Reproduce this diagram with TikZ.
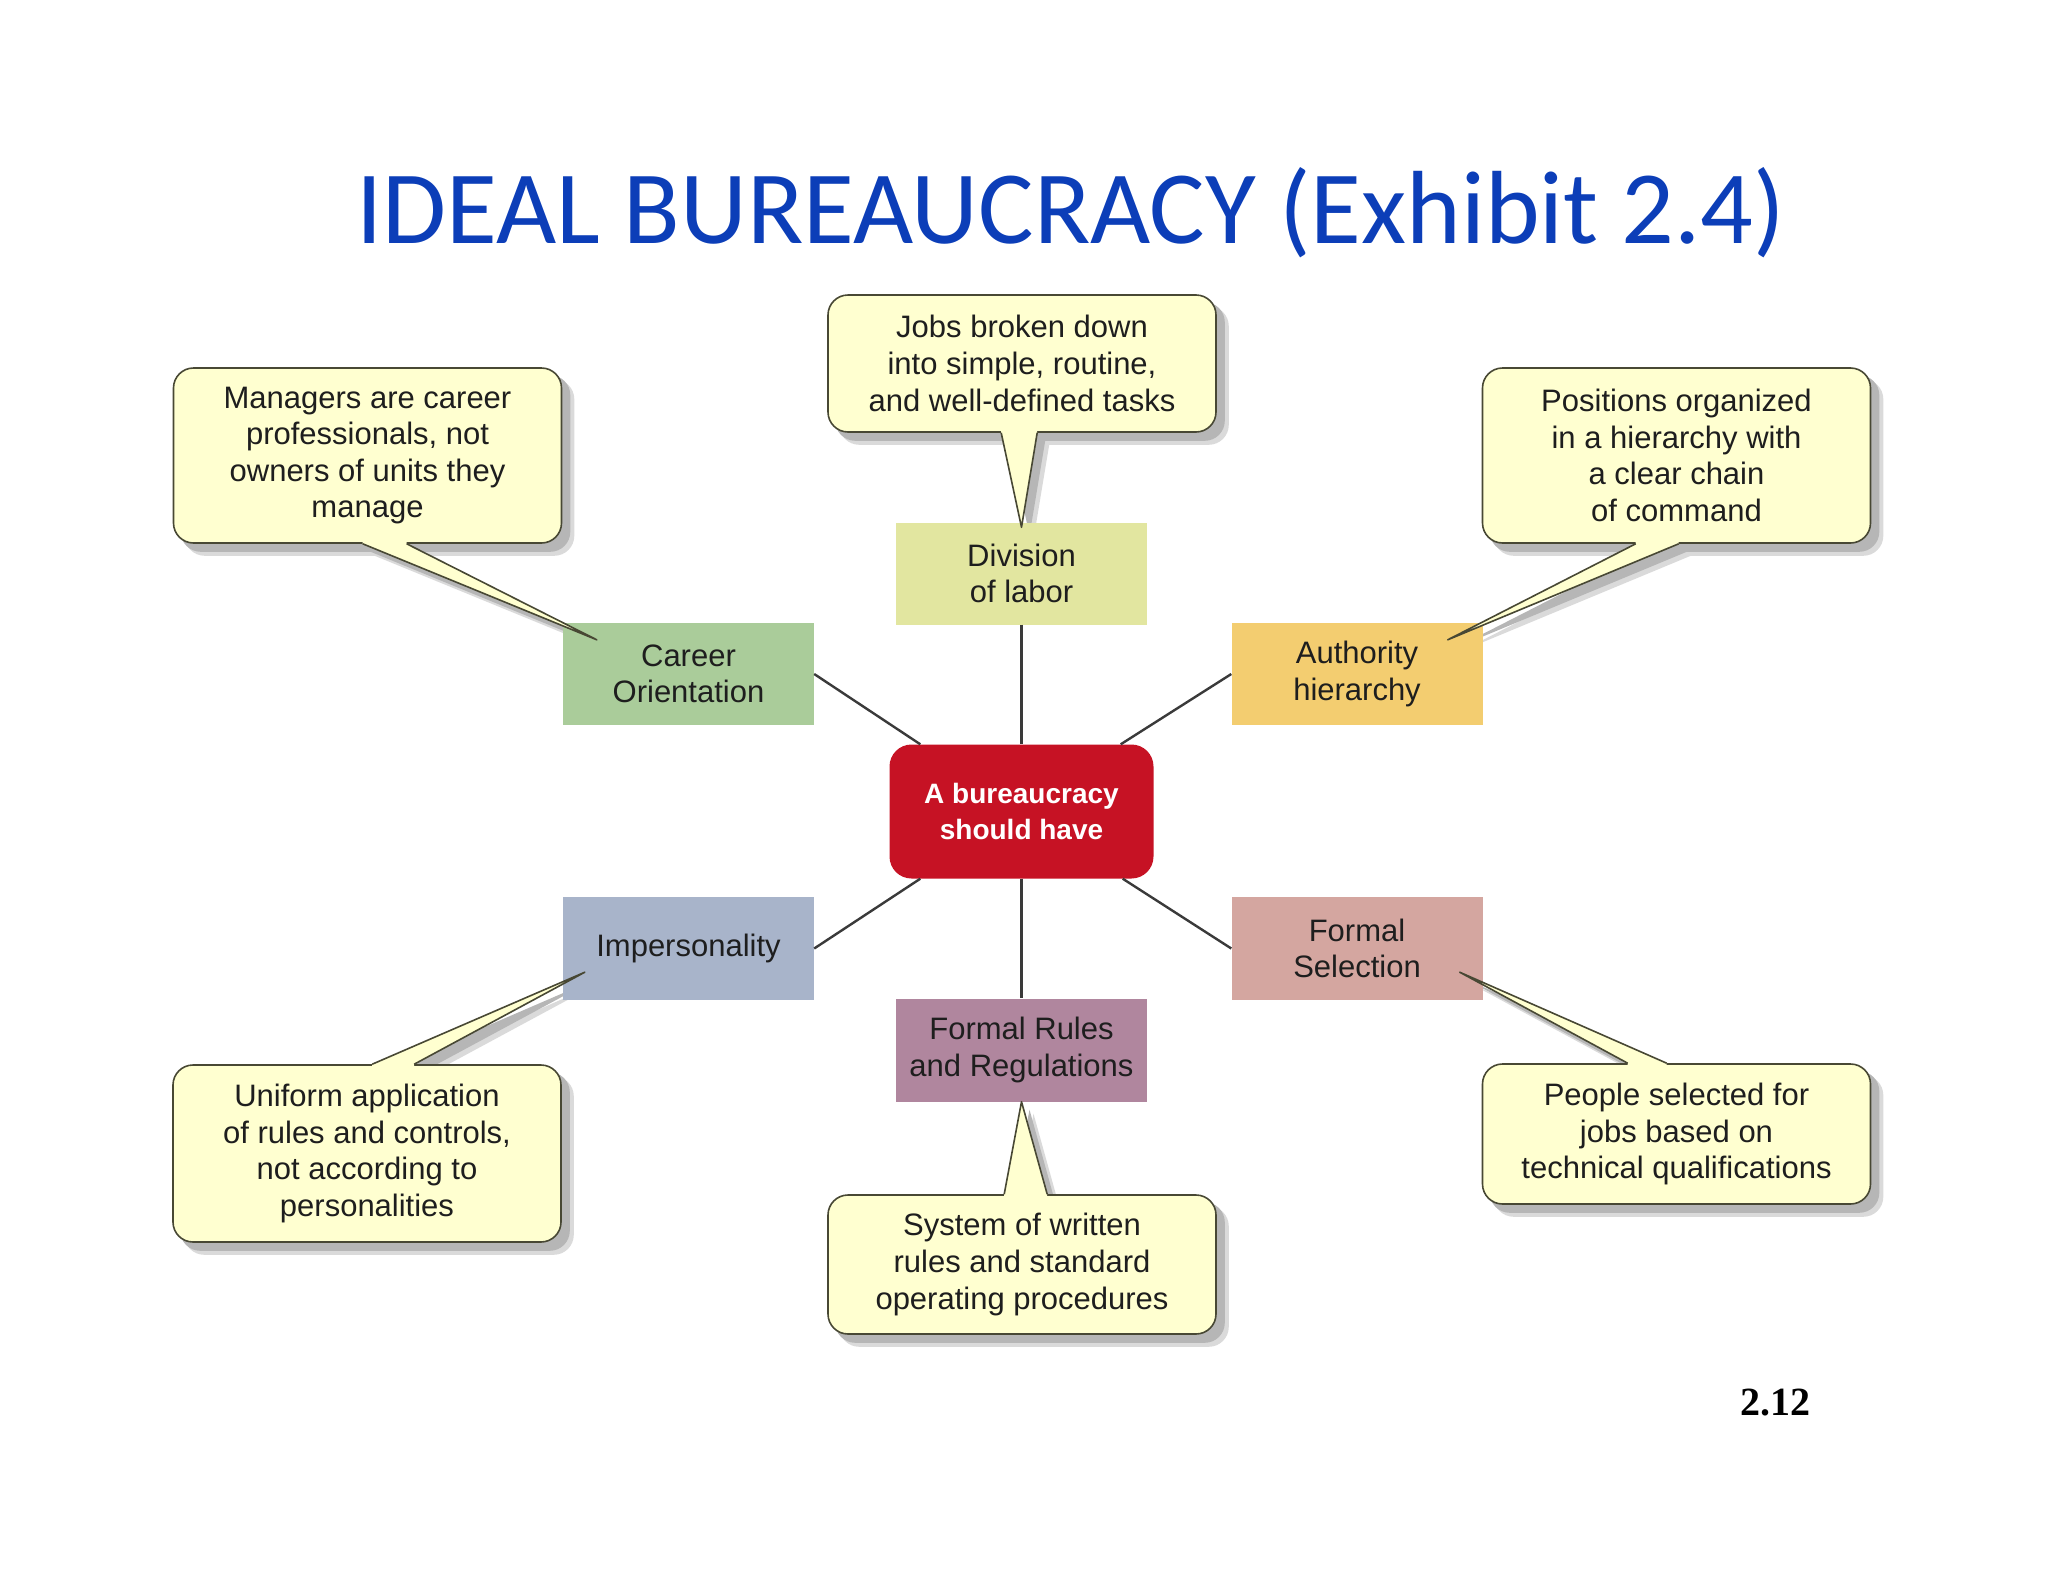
\documentclass[tikz,border=0pt]{standalone}
\usepackage{fontspec}
\newfontfamily\labfont{Liberation Sans}
\newfontfamily\titlefont{Carlito}
\newfontfamily\numfont{Liberation Serif}
\usetikzlibrary{calc}
\pgfdeclarelayer{shadowlayer}
\pgfsetlayers{shadowlayer,main}
\definecolor{titleblue}{RGB}{12,62,184}
\definecolor{callfill}{RGB}{255,255,208}
\definecolor{callline}{RGB}{72,72,52}
\definecolor{shadowA}{RGB}{218,218,218}
\definecolor{shadowB}{RGB}{182,182,182}
\definecolor{txt}{RGB}{30,30,30}
\definecolor{divcol}{RGB}{226,230,160}
\definecolor{carcol}{RGB}{170,204,154}
\definecolor{autcol}{RGB}{243,205,112}
\definecolor{impcol}{RGB}{168,180,202}
\definecolor{selcol}{RGB}{212,166,160}
\definecolor{rulcol}{RGB}{176,134,158}
\definecolor{redcol}{RGB}{198,18,36}
\definecolor{linkcol}{RGB}{58,58,58}
\newcommand\mypointer[4]{%
  \fill[callfill] ($(#1)+(#4)$) -- (#1) -- (#3) -- (#2) -- ($(#2)+(#4)$) -- cycle;
  \draw[calledge] (#1) -- (#3) -- (#2);
  \begin{pgfonlayer}{shadowlayer}
    \fill[shadowA] ($(#1)+(12,12)$) -- ($(#3)+(12,12)$) -- ($(#2)+(12,12)$) -- cycle;
    \fill[shadowB] ($(#1)+(8,8)$) -- ($(#3)+(8,8)$) -- ($(#2)+(8,8)$) -- cycle;
  \end{pgfonlayer}}
\newcommand\myshadow[1]{%
  \begin{pgfonlayer}{shadowlayer}
    \fill[shadowA, rounded corners=20pt] ($(#1.north west)+(12,12)$) rectangle ($(#1.south east)+(12,12)$);
    \fill[shadowB, rounded corners=20pt] ($(#1.north west)+(8,8)$) rectangle ($(#1.south east)+(8,8)$);
  \end{pgfonlayer}}
\begin{document}
\begin{tikzpicture}[x=1pt,y=-1pt,
  labeltext/.style={font=\labfont\fontsize{31}{36.6}\selectfont, text=txt, align=center},
  catbox/.style={labeltext, minimum width=251pt, minimum height=102pt, inner sep=0pt},
  callbox/.style={labeltext, minimum width=388pt, inner sep=0pt, fill=callfill, draw=callline, line width=1.6pt, rounded corners=20pt},
  calledge/.style={draw=callline, line width=1.6pt, line join=round},
  link/.style={draw=linkcol, line width=2.4pt}]
\useasboundingbox (0,0) rectangle (2048,1582);

% title
\node[anchor=base, font=\titlefont\fontsize{104}{120}\selectfont, text=titleblue] (title) at (1071,243) {IDEAL BUREAUCRACY (Exhibit 2.4)};

% category boxes
\node[catbox, fill=divcol] (div) at (1021.5,573.5) {Division\\of labor};
\node[catbox, fill=carcol] (car) at (688.5,674) {Career\\Orientation};
\node[catbox, fill=autcol] (aut) at (1357,674) {Authority\\hierarchy};
\node[catbox, fill=impcol, minimum height=103pt] (imp) at (688.5,948.5) {Impersonality};
\node[catbox, fill=selcol, minimum height=103pt] (sel) at (1357,948.5) {Formal\\Selection};
\node[catbox, fill=rulcol, minimum height=103pt] (rul) at (1021.5,1050) {Formal Rules\\and Regulations};

% centre
\node[minimum width=264pt, minimum height=134pt, inner sep=0pt, fill=redcol, rounded corners=22pt,
      font=\labfont\bfseries\fontsize{28}{36.6}\selectfont, text=white, align=center] (cen) at (1021.5,811.5) {A bureaucracy\\should have};

% links
\draw[link] (div.south) -- (cen.north);
\draw[link] (cen.south) -- (rul.north);
\draw[link] (car.east) -- ($(cen.north west)+(31,0)$);
\draw[link] (aut.west) -- ($(cen.north east)+(-33,0)$);
\draw[link] (imp.east) -- ($(cen.south west)+(31,0)$);
\draw[link] (sel.west) -- ($(cen.south east)+(-31,0)$);

% callouts
\node[callbox, minimum height=175pt] (mgr) at (367.5,455.5) {Managers are career\\professionals, not\\owners of units they\\manage};
\node[callbox, minimum height=137pt] (jobs) at (1022,363.5) {Jobs broken down\\into simple, routine,\\and well-defined tasks};
\node[callbox, minimum height=175pt] (pos) at (1676.5,455.5) {Positions organized\\in a hierarchy with\\a clear chain\\of command};
\node[callbox, minimum height=177pt] (uni) at (367,1153.5) {Uniform application\\of rules and controls,\\not according to\\personalities};
\node[callbox, minimum height=140pt] (peo) at (1676.5,1134) {People selected for\\jobs based on\\technical qualifications};
\node[callbox, minimum height=139pt] (sys) at (1022,1264.5) {System of written\\rules and standard\\operating procedures};
\myshadow{mgr}\myshadow{jobs}\myshadow{pos}\myshadow{uni}\myshadow{peo}\myshadow{sys}

% pointer ends
\coordinate (mgrA) at ($(mgr.south west)+(190,0)$);
\coordinate (mgrB) at ($(mgr.south west)+(234,0)$);
\coordinate (mgrT) at ($(car.north west)+(34,17)$);
\coordinate (jobsA) at ($(jobs.south west)+(174,0)$);
\coordinate (jobsB) at ($(jobs.south west)+(210,0)$);
\coordinate (jobsT) at ($(div.north)+(0,5)$);
\coordinate (posA) at ($(pos.south west)+(154,0)$);
\coordinate (posB) at ($(pos.south west)+(197,0)$);
\coordinate (posT) at ($(aut.north east)+(-35,17)$);
\coordinate (uniA) at ($(uni.north west)+(200,0)$);
\coordinate (uniB) at ($(uni.north west)+(242,0)$);
\coordinate (uniT) at ($(imp.south west)+(22,-28)$);
\coordinate (peoA) at ($(peo.north west)+(146,0)$);
\coordinate (peoB) at ($(peo.north west)+(185,0)$);
\coordinate (peoT) at ($(sel.south east)+(-23,-28)$);
\coordinate (sysA) at ($(sys.north west)+(177,0)$);
\coordinate (sysB) at ($(sys.north west)+(220,0)$);
\coordinate (sysT) at ($(rul.south)+(0,0)$);

\mypointer{mgrA}{mgrB}{mgrT}{0,-3}
\mypointer{jobsA}{jobsB}{jobsT}{0,-3}
\mypointer{posA}{posB}{posT}{0,-3}
\mypointer{uniA}{uniB}{uniT}{0,3}
\mypointer{peoA}{peoB}{peoT}{0,3}
\mypointer{sysA}{sysB}{sysT}{0,3}

% page number
\node[anchor=base, font=\numfont\bfseries\fontsize{40}{48}\selectfont] (pagenum) at (1775,1415) {2.12};
\end{tikzpicture}
\end{document}
